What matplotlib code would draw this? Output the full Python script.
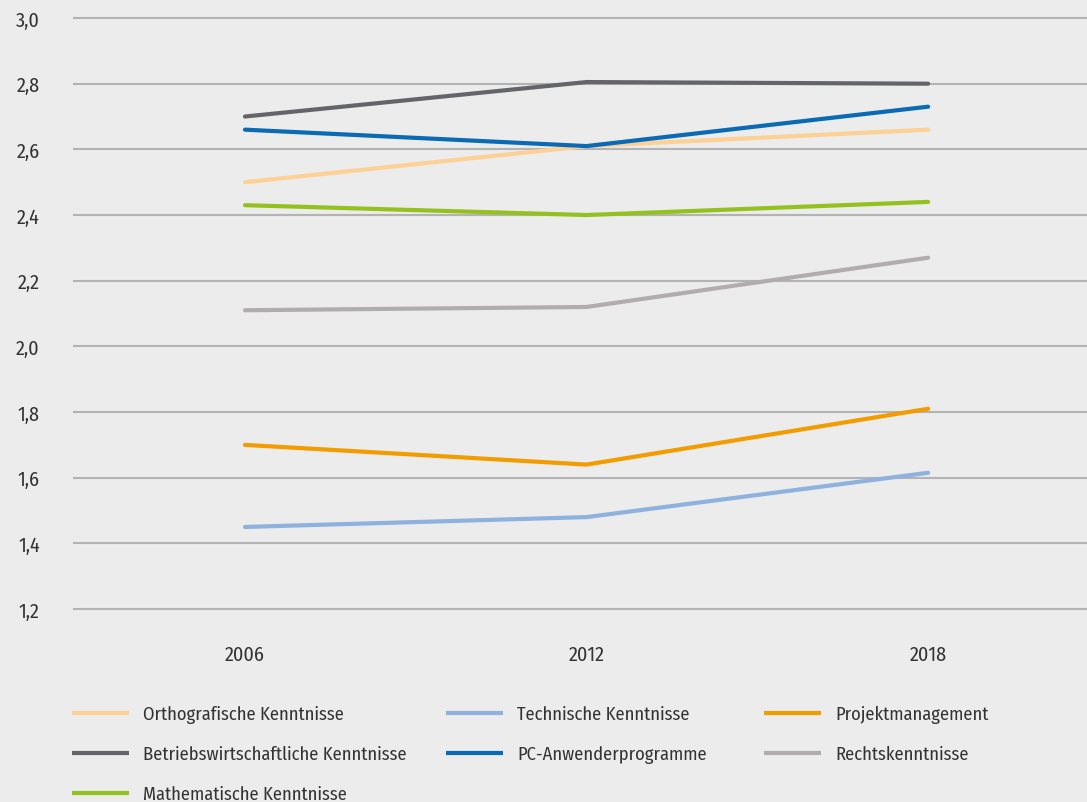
import matplotlib.pyplot as plt
from matplotlib import font_manager as fm
from matplotlib.ticker import FuncFormatter

# pick a condensed font if one is around
names = {f.name for f in fm.fontManager.ttflist}
stretch = "normal"
family = "DejaVu Sans"
for cand in ["Fira Sans Condensed", "Roboto Condensed", "Liberation Sans Narrow",
             "Open Sans Condensed", "Noto Sans Condensed", "Arial Narrow"]:
    if cand in names:
        family = cand
        break
else:
    cond = [f for f in fm.fontManager.ttflist
            if f.name in ("Noto Sans", "Open Sans", "DejaVu Sans", "Roboto")
            and str(f.stretch) in ("condensed", "semi-condensed", "75", "87.5")]
    if cond:
        family = cond[0].name
        stretch = "condensed"
    else:
        family = "Roboto"
plt.rcParams["font.family"] = [family, "DejaVu Sans"]
plt.rcParams["font.stretch"] = stretch

# data
years = [2006, 2012, 2018]
labels = [
    "Orthografische Kenntnisse",
    "Betriebswirtschaftliche Kenntnisse",
    "Mathematische Kenntnisse",
    "Technische Kenntnisse",
    "PC-Anwenderprogramme",
    "Projektmanagement",
    "Rechtskenntnisse",
]
ortho = [2.50, 2.61, 2.66]
betrieb = [2.70, 2.805, 2.80]
mathe = [2.43, 2.40, 2.44]
technik = [1.45, 1.48, 1.615]
pc = [2.66, 2.61, 2.73]
projekt = [1.70, 1.64, 1.81]
recht = [2.11, 2.12, 2.27]
series = [ortho, betrieb, mathe, technik, pc, projekt, recht]
colors = ["#fdd195", "#636569", "#95c11f", "#8eb1de", "#0a6ab4", "#f39c00", "#b1adad"]
y_ticks = [1.2, 1.4, 1.6, 1.8, 2.0, 2.2, 2.4, 2.6, 2.8, 3.0]

BG = "#ececec"
TEXT = "#333333"
FS = 13.3       # legend
FS_TICK = 14.5  # axis labels

fig = plt.figure(figsize=(10.87, 8.03), dpi=100, facecolor=BG)
ax = fig.add_axes([0.0672, 0.2362, 0.9328, 0.7442], facecolor=BG)

lines = []
for vals, lab, col in zip(series, labels, colors):
    (ln,) = ax.plot(years, vals, color=col, lw=3.0, solid_capstyle="round", label=lab)
    lines.append(ln)

ax.set_xlim(2002.98, 2020.79)
ax.set_ylim(1.19, 3.01)
ax.set_xticks(years)
ax.set_yticks(y_ticks)
ax.yaxis.set_major_formatter(FuncFormatter(lambda v, p: f"{v:.1f}".replace(".", ",")))
ax.grid(axis="y", color="#b3b3b3", lw=1.5, zorder=0)
ax.set_axisbelow(True)
for s in ax.spines.values():
    s.set_visible(False)
ax.tick_params(axis="y", length=0, pad=24, labelsize=FS_TICK, labelcolor=TEXT)
ax.tick_params(axis="x", length=0, pad=23, labelsize=FS_TICK, labelcolor=TEXT)

# legend: three columns placed by hand
col_groups = [(0, 3, 72), (3, 5, 446), (5, 7, 764)]
for i0, i1, xpx in col_groups:
    leg = fig.legend(
        handles=lines[i0:i1],
        loc="upper left",
        bbox_to_anchor=(xpx / 1087, 1 - 706 / 803),
        frameon=False,
        fontsize=FS,
        handlelength=3.08,
        handletextpad=0.76,
        labelspacing=1.2,
        borderpad=0,
        borderaxespad=0,
    )
    for t in leg.get_texts():
        t.set_color(TEXT)
    for h in leg.get_lines():
        h.set_solid_capstyle("butt")

fig.savefig("out.png", dpi=100, facecolor=BG)
